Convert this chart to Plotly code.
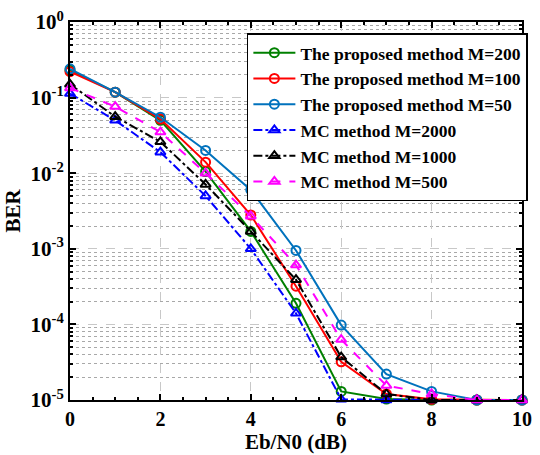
import plotly.graph_objects as go

x = [0, 1, 2, 3, 4, 5, 6, 7, 8, 9, 10]
prop_200 = [0.23, 0.118, 0.050, 0.0105, 0.0017, 1.9e-4, 1.3e-5, 1.03e-5, 1e-5, 1e-5, 1e-5]
prop_100 = [0.22, 0.118, 0.052, 0.014, 0.0028, 3.2e-4, 3.2e-5, 1.2e-5, 1.02e-5, 1e-5, 1e-5]
prop_50 = [0.24, 0.118, 0.055, 0.020, 0.006, 9.5e-4, 9.8e-5, 2.2e-5, 1.3e-5, 1e-5, 1e-5]
mc_2000 = [0.113, 0.050, 0.019, 0.005, 0.001, 1.4e-4, 1.02e-5, 1e-5, 1e-5, 1e-5, 1e-5]
mc_1000 = [0.15, 0.056, 0.026, 0.0071, 0.0017, 3.9e-4, 3.7e-5, 1.2e-5, 1.0e-5, 1e-5, 1e-5]
mc_500 = [0.134, 0.076, 0.035, 0.010, 0.0027, 6.1e-4, 6.3e-5, 1.55e-5, 1.2e-5, 1e-5, 1e-5]

series = [
    ("The proposed method M=200", prop_200, "#008000", "solid", "circle-open"),
    ("The proposed method M=100", prop_100, "#FF0000", "solid", "circle-open"),
    ("The proposed method M=50", prop_50, "#0072BD", "solid", "circle-open"),
    ("MC method M=2000", mc_2000, "#0000FF", "dashdot", "triangle-up-open"),
    ("MC method M=1000", mc_1000, "#000000", "dashdot", "triangle-up-open"),
    ("MC method M=500", mc_500, "#FF00FF", "dash", "triangle-up-open"),
]

y_tickvals = [1e-5, 1e-4, 1e-3, 1e-2, 1e-1, 1]
y_ticktext = ["10<sup>-5</sup>", "10<sup>-4</sup>", "10<sup>-3</sup>",
              "10<sup>-2</sup>", "10<sup>-1</sup>", "10<sup>0</sup>"]
y_minor = [k * 10 ** e for e in range(-5, 0) for k in range(2, 10)]

fig = go.Figure()
for name, ys, color, dash, sym in series:
    fig.add_trace(go.Scatter(
        x=x, y=ys, name=name, mode="lines+markers",
        line=dict(color=color, width=2, dash=dash),
        marker=dict(symbol=sym, size=9, color=color, line=dict(width=2, color=color)),
        cliponaxis=False,
    ))

font_family = "Liberation Serif"
fig.update_layout(
    width=540, height=455,
    margin=dict(l=70, r=8, t=18, b=48),
    paper_bgcolor="white", plot_bgcolor="white",
    font=dict(family=font_family, size=20, color="black"),
    showlegend=True,
    legend=dict(
        x=1.013, y=0.97, xanchor="right", yanchor="top",
        bgcolor="white", bordercolor="black", borderwidth=1.5,
        font=dict(family=font_family, size=17.5, color="black", weight="bold"),
        tracegroupgap=0, itemwidth=42,
    ),
)
fig.update_xaxes(
    range=[0, 10], tickvals=[0, 2, 4, 6, 8, 10],
    ticks="inside", ticklen=6, tickwidth=1.5, tickcolor="black",
    showline=True, linecolor="black", linewidth=2, mirror="allticks",
    showgrid=True, gridcolor="#c8c8c8", griddash="dash", gridwidth=1,
    zeroline=False,
    tickfont=dict(family=font_family, size=20, weight="bold"),
    title=dict(text="Eb/N0 (dB)", font=dict(family=font_family, size=21, weight="bold"), standoff=2),
    minor=dict(dtick=0.5, ticks="inside", ticklen=3, tickcolor="black", showgrid=False),
)
fig.update_yaxes(
    type="log", range=[-5, 0], tickvals=y_tickvals, ticktext=y_ticktext,
    ticks="inside", ticklen=6, tickwidth=1.5, tickcolor="black",
    showline=True, linecolor="black", linewidth=2, mirror="allticks",
    showgrid=True, gridcolor="#c8c8c8", griddash="dash", gridwidth=1,
    zeroline=False,
    tickfont=dict(family=font_family, size=21, weight="bold"),
    title=dict(text="BER", font=dict(family=font_family, size=21, weight="bold"), standoff=4),
    minor=dict(tickvals=y_minor, ticks="inside", ticklen=3, tickcolor="black",
               showgrid=True, gridcolor="#a8a8a8", griddash="dot", gridwidth=1),
)

fig.write_html("out.html")
